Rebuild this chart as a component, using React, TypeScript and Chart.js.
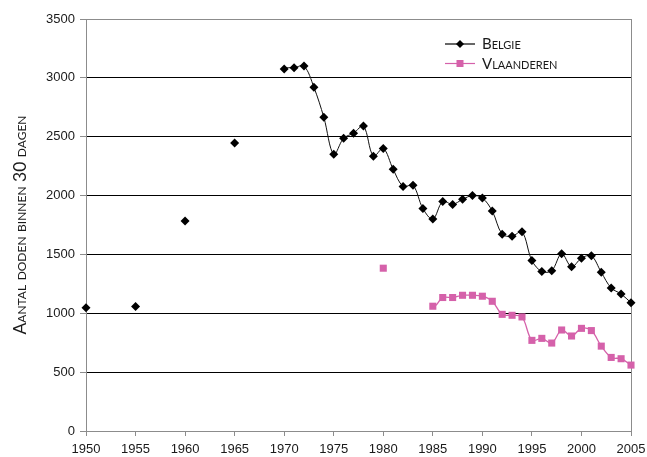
import React, { useEffect, useRef } from "react";
import { Chart, registerables } from "chart.js";

Chart.register(...registerables);

// ---- data ----
const belgieYears = [
  1950, 1955, 1960, 1965, 1970, 1971, 1972, 1973, 1974, 1975, 1976, 1977, 1978, 1979,
  1980, 1981, 1982, 1983, 1984, 1985, 1986, 1987, 1988, 1989, 1990, 1991, 1992, 1993,
  1994, 1995, 1996, 1997, 1998, 1999, 2000, 2001, 2002, 2003, 2004, 2005,
];
const belgieValues = [
  1047, 1058, 1785, 2447, 3075, 3085, 3100, 2920, 2665, 2350, 2487, 2530, 2590, 2335,
  2400, 2223, 2078, 2087, 1890, 1800, 1950, 1925, 1968, 2000, 1980, 1868, 1672, 1655,
  1692, 1448, 1355, 1362, 1506, 1395, 1468, 1488, 1348, 1215, 1164, 1090,
];
const vlaanderenYears = [
  1980, 1985, 1986, 1987, 1988, 1989, 1990, 1991, 1992, 1993, 1994, 1995, 1996, 1997,
  1998, 1999, 2000, 2001, 2002, 2003, 2004, 2005,
];
const vlaanderenValues = [
  1383, 1060, 1134, 1134, 1153, 1153, 1145, 1102, 991, 983, 969, 770, 787, 747,
  858, 807, 872, 853, 721, 625, 614, 560,
];
const seriesNames = ["Belgie", "Vlaanderen"];
const yAxisTitle = "Aantal doden binnen 30 dagen";
const xMin = 1950;
const xMax = 2005;
const xStep = 5;
const yMin = 0;
const yMax = 3500;
const yStep = 500;

// ---- styles ----
const BLACK = "#000000";
const PINK = "#d561aa";
const GRAY = "#8c8c8c";
const TEXT = "#1a1a1a";

const legendPlugin = {
  id: "customLegend",
  afterDraw(chart: any) {
    const { ctx, chartArea } = chart;
    const items = [
      { label: seriesNames[0], color: BLACK, shape: "diamond" },
      { label: seriesNames[1], color: PINK, shape: "square" },
    ];
    const x0 = chartArea.right - 186;
    let y = chartArea.top + 25;
    ctx.save();
    items.forEach((it) => {
      ctx.strokeStyle = it.color;
      ctx.lineWidth = 1.2;
      ctx.beginPath();
      ctx.moveTo(x0, y);
      ctx.lineTo(x0 + 30, y);
      ctx.stroke();
      ctx.fillStyle = it.color;
      const cx = x0 + 15;
      if (it.shape === "diamond") {
        ctx.beginPath();
        ctx.moveTo(cx, y - 4);
        ctx.lineTo(cx + 4, y);
        ctx.lineTo(cx, y + 4);
        ctx.lineTo(cx - 4, y);
        ctx.closePath();
        ctx.fill();
      } else {
        ctx.fillRect(cx - 3.5, y - 3.5, 7, 7);
      }
      ctx.fillStyle = TEXT;
      ctx.font = "small-caps 15px Lato";
      ctx.textBaseline = "middle";
      ctx.textAlign = "left";
      ctx.fillText(it.label, x0 + 37, y + 0.5);
      y += 19.5;
    });
    ctx.restore();
  },
};

function toPoints(xs: number[], ys: number[]) {
  return xs.map((x, i) => ({ x, y: ys[i] }));
}

export default function App() {
  const ref = useRef<HTMLCanvasElement | null>(null);

  useEffect(() => {
    if (!ref.current) return;
    const gapColor = (color: string) => (ctx: any) =>
      ctx.p1.parsed.x - ctx.p0.parsed.x > 1 ? "rgba(0,0,0,0)" : color;

    const chart = new Chart(ref.current, {
      type: "line",
      data: {
        datasets: [
          {
            label: seriesNames[0],
            data: toPoints(belgieYears, belgieValues),
            borderColor: "#111111",
            borderWidth: 1,
            backgroundColor: BLACK,
            pointStyle: "rectRot",
            pointRadius: 4.5,
            pointBorderWidth: 0,
            pointBackgroundColor: BLACK,
            tension: 0.35,
            clip: false as any,
            segment: { borderColor: gapColor("#111111") },
          },
          {
            label: seriesNames[1],
            data: toPoints(vlaanderenYears, vlaanderenValues),
            borderColor: PINK,
            borderWidth: 1.3,
            backgroundColor: PINK,
            pointStyle: "rect",
            pointRadius: 5,
            pointBorderWidth: 0,
            pointBackgroundColor: PINK,
            tension: 0.35,
            clip: false as any,
            segment: { borderColor: gapColor(PINK) },
          },
        ],
      },
      options: {
        animation: false,
        responsive: true,
        maintainAspectRatio: false,
        layout: { padding: { top: 19, right: 16, left: 0, bottom: 0 } },
        plugins: {
          legend: { display: false },
          tooltip: { enabled: false },
        },
        scales: {
          x: {
            type: "linear",
            min: xMin,
            max: xMax,
            afterFit: (s: any) => {
              s.height = 26;
              s.paddingLeft = 10;
              s.paddingRight = 10;
            },
            ticks: {
              stepSize: xStep,
              autoSkip: false,
              maxRotation: 0,
              padding: 6,
              color: TEXT,
              font: { family: "Liberation Sans", size: 13 },
              callback: (v: any) => String(v),
            },
            border: { color: GRAY, width: 1 },
            grid: {
              drawOnChartArea: true,
              color: (c: any) => (c.tick && c.tick.value === xMax ? GRAY : "rgba(0,0,0,0)"),
              tickColor: GRAY,
              tickLength: 5,
              lineWidth: 1,
            },
          },
          y: {
            type: "linear",
            min: yMin,
            max: yMax,
            afterFit: (s: any) => {
              s.width = 86;
            },
            ticks: {
              stepSize: yStep,
              padding: 5,
              color: TEXT,
              font: { family: "Liberation Sans", size: 13 },
              callback: (v: any) => String(v),
            },
            border: { color: GRAY, width: 1 },
            grid: {
              color: (c: any) => {
                const v = c.tick ? c.tick.value : 0;
                if (v === yMin || v === yMax) return GRAY;
                return "#000000";
              },
              tickColor: GRAY,
              tickLength: 6,
              lineWidth: 1,
            },
            title: {
              display: true,
              text: yAxisTitle,
              color: TEXT,
              padding: { top: 10, bottom: 0 },
              font: { family: "Lato", size: 17.5, weight: "small-caps" as any },
            },
          },
        },
      },
      plugins: [legendPlugin],
    });
    return () => chart.destroy();
  }, []);

  return (
    <div style={{ position: "absolute", left: 0, top: 0, width: 647, height: 457, background: "#fff" }}>
      <canvas ref={ref} />
    </div>
  );
}
